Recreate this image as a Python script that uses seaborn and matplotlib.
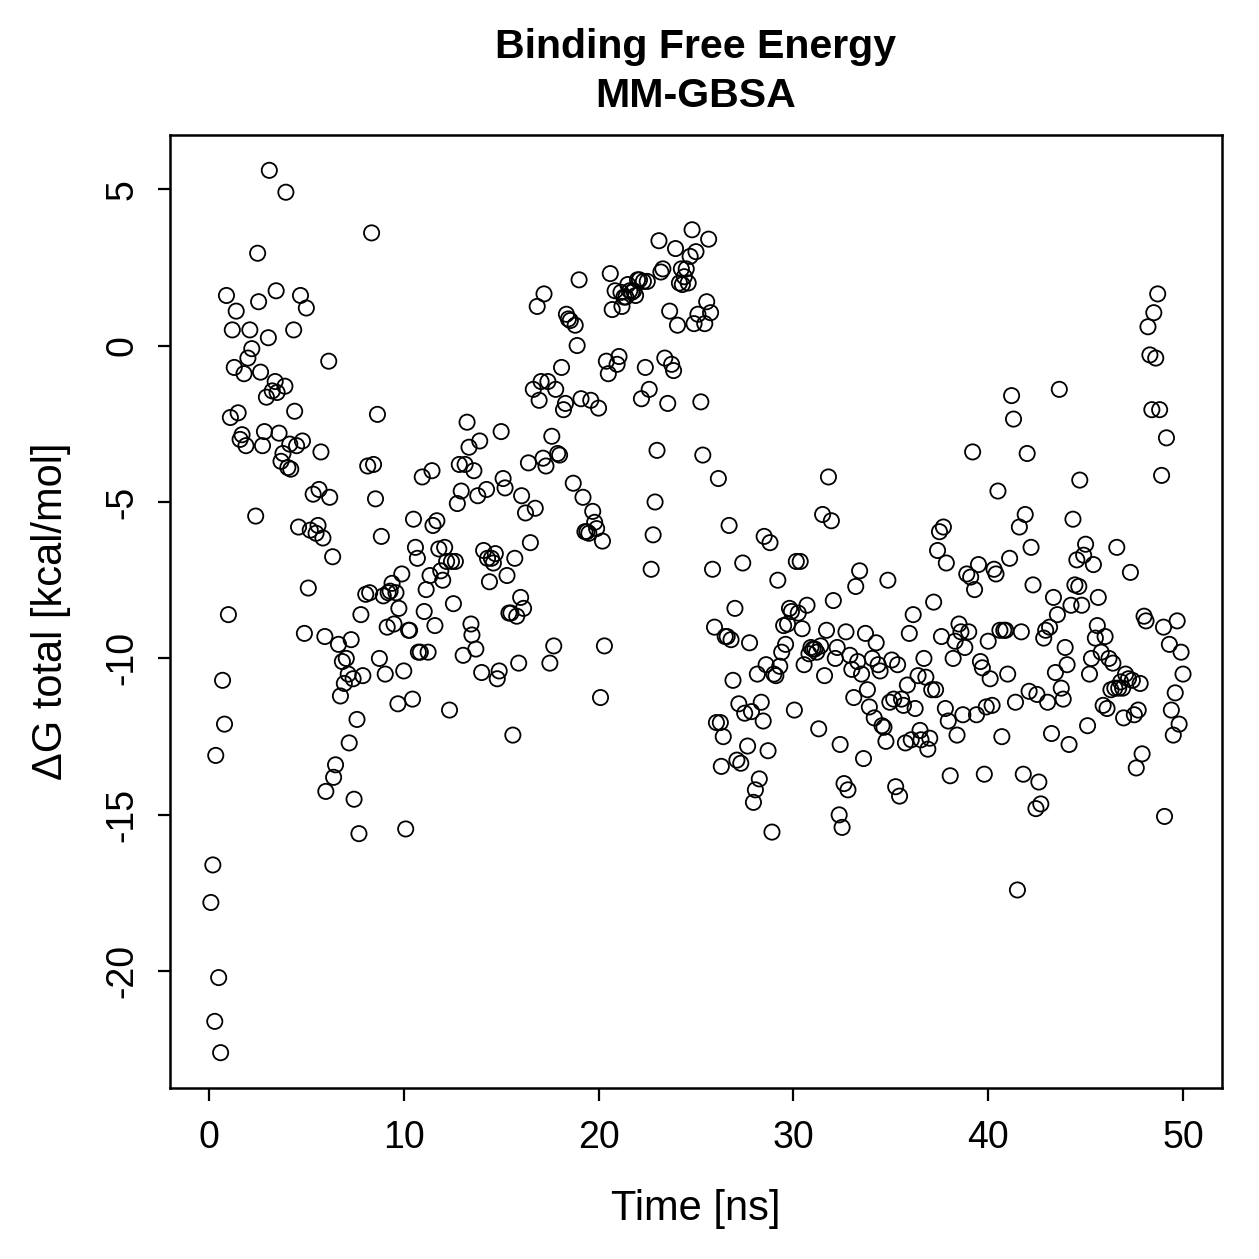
import matplotlib
matplotlib.use("Agg")
import matplotlib.pyplot as plt
import seaborn as sns
import pandas as pd

time_ns = [
 0.1,0.2,0.3,0.35,0.5,0.6,0.7,0.8,0.9,1.0,1.1,1.2,1.3,1.4,1.5,1.6,1.7,1.8,1.9,2.0,
 2.1,2.2,2.4,2.5,2.55,2.65,2.75,2.85,2.95,3.05,3.1,3.25,3.4,3.45,3.5,3.6,3.7,3.8,3.9,3.95,
 4.05,4.15,4.2,4.35,4.4,4.5,4.6,4.7,4.8,4.9,5.0,5.1,5.2,5.35,5.5,5.6,5.65,5.75,5.85,5.95,
 6.0,6.15,6.2,6.35,6.4,6.5,6.65,6.75,6.85,6.95,7.05,7.15,7.2,7.3,7.4,7.45,7.6,7.7,7.8,7.9,
 8.05,8.15,8.25,8.35,8.45,8.55,8.65,8.75,8.85,8.95,9.05,9.15,9.2,9.3,9.4,9.5,9.6,9.7,9.75,9.9,
 10.0,10.1,10.25,10.3,10.45,10.5,10.6,10.7,10.75,10.85,10.95,11.05,11.15,11.25,11.35,11.45,11.5,11.6,11.7,11.8,
 11.9,12.0,12.1,12.2,12.35,12.45,12.55,12.65,12.75,12.85,12.95,13.05,13.15,13.25,13.35,13.45,13.5,13.6,13.7,13.8,
 13.9,14.0,14.1,14.25,14.3,14.4,14.5,14.6,14.7,14.8,14.9,15.0,15.1,15.2,15.3,15.4,15.5,15.6,15.7,15.8,
 15.9,16.0,16.05,16.15,16.25,16.4,16.5,16.65,16.75,16.85,16.95,17.05,17.15,17.2,17.3,17.4,17.5,17.6,17.7,17.8,
 17.9,18.0,18.1,18.2,18.3,18.35,18.45,18.55,18.7,18.8,18.9,19.0,19.1,19.2,19.3,19.4,19.5,19.6,19.7,19.8,
 19.9,20.0,20.1,20.2,20.3,20.4,20.5,20.6,20.7,20.85,20.95,21.05,21.15,21.2,21.3,21.4,21.5,21.6,21.7,21.8,
 21.9,22.0,22.1,22.2,22.3,22.4,22.5,22.6,22.7,22.8,22.9,23.0,23.1,23.2,23.3,23.4,23.55,23.65,23.75,23.85,
 23.95,24.05,24.15,24.25,24.3,24.4,24.5,24.6,24.7,24.8,24.9,25.0,25.1,25.25,25.35,25.45,25.55,25.65,25.75,25.85,
 25.95,26.05,26.15,26.25,26.3,26.4,26.5,26.6,26.7,26.8,26.9,27.0,27.1,27.2,27.3,27.4,27.5,27.65,27.75,27.85,
 27.95,28.05,28.15,28.25,28.35,28.45,28.5,28.6,28.7,28.8,28.9,29.0,29.1,29.2,29.3,29.4,29.5,29.6,29.7,29.8,
 29.9,30.05,30.15,30.25,30.35,30.45,30.55,30.7,30.8,30.9,31.0,31.1,31.2,31.3,31.4,31.5,31.6,31.7,31.8,31.95,
 32.05,32.15,32.25,32.35,32.4,32.5,32.6,32.7,32.8,32.9,33.0,33.1,33.2,33.3,33.4,33.5,33.6,33.7,33.8,33.9,
 34.05,34.15,34.25,34.35,34.45,34.55,34.65,34.75,34.85,34.95,35.05,35.15,35.25,35.35,35.45,35.55,35.65,35.75,35.85,35.95,
 36.05,36.15,36.25,36.4,36.5,36.55,36.7,36.8,36.9,37.0,37.1,37.2,37.3,37.4,37.5,37.6,37.7,37.8,37.85,37.95,
 38.05,38.2,38.3,38.4,38.5,38.6,38.7,38.8,38.9,39.0,39.1,39.2,39.3,39.4,39.5,39.6,39.7,39.8,39.9,40.0,
 40.1,40.2,40.3,40.4,40.5,40.6,40.7,40.8,40.9,41.0,41.1,41.2,41.3,41.4,41.5,41.6,41.7,41.8,41.9,42.0,
 42.1,42.2,42.3,42.45,42.5,42.6,42.7,42.85,42.95,43.05,43.15,43.25,43.35,43.45,43.55,43.65,43.75,43.85,43.95,44.05,
 44.15,44.25,44.35,44.45,44.55,44.65,44.7,44.8,44.9,45.0,45.1,45.2,45.3,45.4,45.5,45.6,45.65,45.8,45.9,46.0,
 46.1,46.2,46.3,46.4,46.5,46.6,46.7,46.8,46.9,46.95,47.05,47.2,47.3,47.4,47.5,47.6,47.7,47.8,47.9,48.0,
 48.1,48.2,48.3,48.4,48.5,48.6,48.7,48.8,48.9,49.0,49.05,49.15,49.3,49.4,49.5,49.6,49.7,49.8,49.9,50.0,
]

dg_total = [
 -17.8,-16.6,-21.6,-13.1,-20.2,-22.6,-10.7,-12.1,1.6,-8.6,-2.3,0.5,-0.7,1.1,-2.15,-3.0,-2.85,-0.9,-3.2,-0.4,
 0.5,-0.1,-5.45,2.95,1.4,-0.85,-3.2,-2.75,-1.65,0.25,5.6,-1.45,-1.15,1.75,-1.5,-2.8,-3.7,-3.45,-1.3,4.9,
 -3.9,-3.15,-3.95,0.5,-2.1,-3.2,-5.8,1.6,-3.05,-9.2,1.2,-7.75,-5.9,-4.75,-6.0,-5.75,-4.6,-3.4,-6.15,-9.3,
 -14.25,-0.5,-4.85,-6.75,-13.8,-13.4,-9.55,-11.2,-10.1,-10.8,-10.0,-10.5,-12.7,-9.4,-10.65,-14.5,-11.95,-15.6,-8.6,-10.55,
 -7.95,-3.85,-7.9,3.6,-3.8,-4.9,-2.2,-10.0,-6.1,-8.0,-10.5,-9.0,-7.9,-7.85,-7.6,-8.9,-7.9,-11.45,-8.4,-7.3,
 -10.4,-15.45,-9.1,-9.1,-11.3,-5.55,-6.45,-6.8,-9.8,-9.8,-4.2,-8.5,-7.8,-9.8,-7.35,-4.0,-5.75,-8.95,-5.6,-6.5,
 -7.2,-7.5,-6.45,-6.9,-11.65,-6.9,-8.25,-6.9,-5.05,-3.8,-4.65,-9.9,-3.8,-2.45,-3.25,-8.9,-9.25,-4.0,-9.7,-4.8,
 -3.05,-10.45,-6.55,-4.6,-6.8,-7.55,-6.8,-6.95,-6.65,-10.65,-10.4,-2.75,-4.25,-4.55,-7.35,-8.55,-8.55,-12.45,-6.8,-8.65,
 -10.15,-8.05,-4.8,-8.4,-5.35,-3.75,-6.3,-1.4,-5.2,1.25,-1.75,-1.15,-3.6,1.65,-3.85,-1.15,-10.15,-2.9,-9.6,-1.4,
 -3.45,-3.5,-0.7,-2.05,-1.85,1.0,0.85,0.8,-4.4,0.65,0.0,2.1,-1.7,-4.85,-5.95,-5.95,-6.0,-1.75,-5.3,-5.65,
 -5.85,-2.0,-11.25,-6.25,-9.6,-0.5,-0.9,2.3,1.15,1.75,-0.6,-0.35,1.7,1.25,1.55,1.55,1.95,1.75,1.7,1.75,
 1.6,2.1,2.1,-1.7,2.05,-0.7,2.05,-1.4,-7.15,-6.05,-5.0,-3.35,3.35,2.35,2.45,-0.4,-1.85,1.1,-0.6,-0.8,
 3.1,0.65,2.0,2.45,1.95,2.2,2.45,2.0,2.85,3.7,0.7,3.0,1.0,-1.8,-3.5,0.7,1.4,3.4,1.05,-7.15,
 -9.0,-12.05,-4.25,-12.05,-13.45,-12.5,-9.3,-9.3,-5.75,-9.4,-10.7,-8.4,-13.25,-11.45,-13.35,-6.95,-11.75,-12.8,-9.5,-11.7,
 -14.6,-14.2,-10.5,-13.85,-11.4,-12.0,-6.1,-10.2,-12.95,-6.3,-15.55,-10.5,-10.55,-7.5,-10.25,-9.8,-8.95,-9.55,-8.9,-8.4,
 -8.5,-11.65,-6.9,-8.55,-6.9,-9.05,-10.2,-8.3,-9.85,-9.65,-9.7,-9.7,-9.8,-12.25,-9.6,-5.4,-10.55,-9.1,-4.2,-5.6,
 -8.15,-10.0,-9.65,-15.0,-12.75,-15.4,-14.0,-9.15,-14.2,-9.9,-10.35,-11.25,-7.7,-10.1,-7.2,-10.5,-13.2,-9.2,-11.0,-11.55,
 -10.0,-11.9,-9.5,-10.2,-10.4,-12.15,-12.2,-12.65,-7.5,-11.4,-10.05,-11.3,-14.1,-10.2,-14.4,-11.3,-11.5,-12.7,-10.85,-9.2,
 -12.6,-8.6,-11.6,-10.55,-12.3,-12.6,-10.0,-10.6,-12.9,-12.55,-11.0,-8.2,-11.0,-6.55,-5.95,-9.3,-5.8,-11.6,-6.95,-12.0,
 -13.75,-10.0,-9.45,-12.45,-8.9,-9.15,-11.8,-9.65,-7.3,-9.15,-7.4,-3.4,-7.8,-11.8,-7.0,-10.1,-10.3,-13.7,-11.55,-9.45,
 -10.65,-11.5,-7.15,-7.3,-4.65,-9.1,-12.5,-9.1,-9.1,-10.5,-6.8,-1.6,-2.35,-11.4,-17.4,-5.8,-9.15,-13.7,-5.4,-3.45,
 -11.05,-6.45,-7.65,-14.8,-11.15,-13.95,-14.65,-9.35,-9.1,-11.4,-9.0,-12.4,-8.05,-10.45,-8.6,-1.4,-10.95,-11.3,-9.65,-10.2,
 -12.75,-8.3,-5.55,-7.65,-6.85,-7.7,-4.3,-8.3,-6.7,-6.35,-12.15,-10.5,-10.0,-7.0,-9.35,-8.95,-8.05,-9.8,-11.5,-9.3,
 -11.6,-10.0,-11.0,-10.15,-10.95,-6.45,-10.95,-10.75,-10.95,-11.9,-10.5,-10.65,-7.25,-10.7,-11.8,-13.5,-11.65,-10.8,-13.05,-8.65,
 -8.8,0.6,-0.3,-2.05,1.05,-0.4,1.65,-2.05,-4.15,-9.0,-15.05,-2.95,-9.55,-11.65,-12.45,-11.1,-8.8,-12.1,-9.8,-10.5,
]

title_text = "Binding Free Energy\nMM-GBSA"
x_label = "Time [ns]"
y_label = "\u0394G total [kcal/mol]"
x_ticks = [0, 10, 20, 30, 40, 50]
y_ticks = [-20, -15, -10, -5, 0, 5]

df = pd.DataFrame({"time": time_ns, "dg": dg_total})

sns.set_style("ticks")
plt.rcParams["font.family"] = ["Liberation Sans", "DejaVu Sans"]
plt.rcParams["text.color"] = "black"
plt.rcParams["axes.labelcolor"] = "black"
plt.rcParams["xtick.color"] = "black"
plt.rcParams["ytick.color"] = "black"

fig = plt.figure(figsize=(1259 / 200, 1259 / 200), dpi=200)
ax = fig.add_axes([0.135, 0.1358, 0.8356, 0.757])

sns.scatterplot(data=df, x="time", y="dg", ax=ax, marker="o", s=30,
                facecolors="none", edgecolors="black", linewidth=0.65, legend=False)

ax.set_xlim(-2, 52)
ax.set_ylim(-23.73, 6.73)
ax.set_xticks(x_ticks)
ax.set_yticks(y_ticks)
ax.set_yticklabels([str(v) for v in y_ticks], rotation=90, va="center")
ax.tick_params(axis="both", direction="out", length=4.5, width=0.8, labelsize=13.5,
               colors="black", labelcolor="black")
ax.tick_params(axis="x", pad=7)
ax.tick_params(axis="y", pad=6)
for sp in ax.spines.values():
    sp.set_linewidth(0.9)
    sp.set_color("black")

ax.set_xlabel(x_label, fontsize=15, labelpad=12, color="black")
ax.set_ylabel(y_label, fontsize=15, labelpad=12, color="black")
fig.text(0.5528, 0.943, title_text, ha="center", va="center", color="black",
         fontsize=14.8, fontweight="bold", linespacing=1.38)

fig.savefig("out.png", dpi=200, facecolor="white")
